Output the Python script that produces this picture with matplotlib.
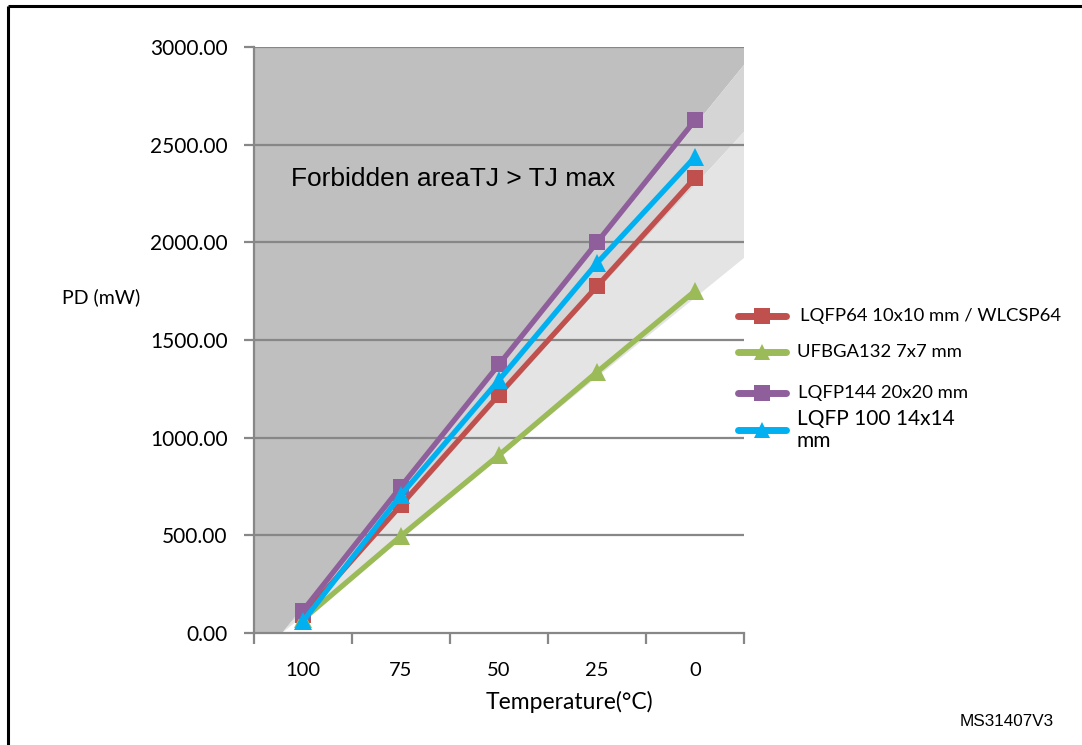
import matplotlib
matplotlib.use("Agg")
import matplotlib.pyplot as plt
from matplotlib.lines import Line2D
from matplotlib.patches import Polygon

# ---------------- data ----------------
temperatures = ["100", "75", "50", "25", "0"]
series_names = ["LQFP64 10x10 mm / WLCSP64", "UFBGA132 7x7 mm",
                "LQFP144 20x20 mm", "LQFP 100 14x14\nmm"]
lqfp64 = [90, 655, 1220, 1775, 2330]
ufbga132 = [70, 497, 911, 1336, 1751]
lqfp144 = [115, 750, 1375, 2000, 2625]
lqfp100 = [60, 707, 1295, 1894, 2437]
y_ticks = [0, 500, 1000, 1500, 2000, 2500, 3000]

# forbidden-area wedges: apex (category position) and right-edge values
zone_apex = -0.214
zone_right = [2908, 2565, 1920]

colors = ["#c0504d", "#9bbb59", "#8f5f9c", "#00b0f0"]
markers = ["s", "^", "s", "^"]
values = [lqfp64, ufbga132, lqfp144, lqfp100]

CAL = ["Lato", "DejaVu Sans"]
ARI = ["Liberation Sans", "DejaVu Sans"]

W, H = 1082, 745
fig = plt.figure(figsize=(W / 100, H / 100), dpi=100)
fig.patch.set_facecolor("white")

def fx(px):
    return px / W

def fy(py):
    return 1 - py / H

ax = fig.add_axes([fx(254), fy(633), fx(744) - fx(254), fy(47) - fy(633)])
ax.set_xlim(-0.5, 4.5)
ax.set_ylim(0, 3000)
ax.set_facecolor("white")

# shaded zones
xr = 4.5
ax.add_patch(Polygon([(-0.5, 0), (zone_apex, 0), (xr, zone_right[0]), (xr, 3000), (-0.5, 3000)],
                     closed=True, facecolor="#bfbfbf", edgecolor="none", zorder=0))
ax.add_patch(Polygon([(zone_apex, 0), (xr, zone_right[0]), (xr, zone_right[1])],
                     closed=True, facecolor="#d5d5d5", edgecolor="none", zorder=0))
ax.add_patch(Polygon([(zone_apex, 0), (xr, zone_right[1]), (xr, zone_right[2])],
                     closed=True, facecolor="#e4e4e4", edgecolor="none", zorder=0))

# gridlines
for v in y_ticks[1:]:
    ax.axhline(v, color="#878787", lw=1.6, zorder=1)

# series
xs = list(range(len(temperatures)))
for vals, c, m in zip(values, colors, markers):
    ms = 11 if m == "s" else 13
    ax.plot(xs, vals, color=c, lw=3.8, marker=m, markersize=ms,
            markeredgewidth=0, zorder=3, solid_capstyle="round", clip_on=False)

# axes styling
for s in ["top", "right"]:
    ax.spines[s].set_visible(False)
for s in ["left", "bottom"]:
    ax.spines[s].set_color("#878787")
    ax.spines[s].set_linewidth(1.6)

ax.set_yticks(y_ticks)
ax.set_yticklabels([f"{v:.2f}" for v in y_ticks], fontfamily=CAL, fontsize=15)
ax.tick_params(axis="y", length=7, width=1.6, color="#878787", pad=12)

ax.set_xticks(xs)
ax.set_xticklabels(temperatures, fontfamily=CAL, fontsize=14.5)
ax.set_xticks([i - 0.5 for i in range(len(temperatures) + 1)], minor=True)
ax.tick_params(axis="x", which="major", length=0, pad=21)
ax.tick_params(axis="x", which="minor", length=8, width=1.6, color="#878787")

# axis titles
fig.text(fx(569), fy(702), "Temperature(°C)", fontfamily=CAL, fontsize=16.5,
         ha="center", va="center")
fig.text(fx(101), fy(297), "PD (mW)", fontfamily=CAL, fontsize=14,
         ha="center", va="center")

ax.text(0.075, 0.775, "Forbidden areaTJ > TJ max", transform=ax.transAxes,
        fontfamily=ARI, fontsize=19, ha="left", va="center", zorder=4)

# legend (manual)
leg_y = [316, 352, 393, 430]
leg_tx = [800, 797, 798, 797]
leg_fs = [13.3, 13.3, 13.3, 15]
for name, c, m, y, tx, fs in zip(series_names, colors, markers, leg_y, leg_tx, leg_fs):
    ln = Line2D([fx(738), fx(786)], [fy(y), fy(y)], transform=fig.transFigure,
                color=c, lw=5, solid_capstyle="round")
    fig.add_artist(ln)
    mk = Line2D([fx(762)], [fy(y)], transform=fig.transFigure, color=c,
                marker=m, markersize=11 if m == "s" else 12, markeredgewidth=0, lw=0)
    fig.add_artist(mk)
    fig.text(fx(tx), fy(y), name, fontfamily=CAL, fontsize=fs, ha="left",
             va="center", linespacing=1.15)

fig.text(fx(960), fy(722), "MS31407V3", fontfamily=ARI, fontsize=12.3,
         ha="left", va="center")

# frame border (top and left)
fig.add_artist(Line2D([fx(8), 1.0], [fy(6), fy(6)], transform=fig.transFigure,
                      color="black", lw=2.2, solid_capstyle="butt"))
fig.add_artist(Line2D([fx(8), fx(8)], [fy(6), 0.0], transform=fig.transFigure,
                      color="black", lw=2.2, solid_capstyle="butt"))

fig.savefig("out.png", dpi=100, facecolor="white")
